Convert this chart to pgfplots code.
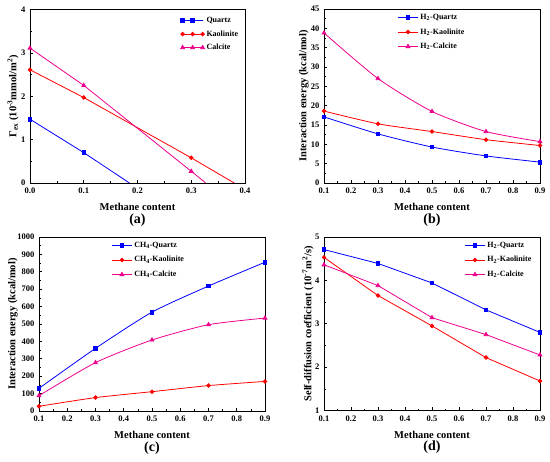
\documentclass[border=0pt]{standalone}
\usepackage{fontspec}
\setmainfont{Liberation Serif}
\usepackage{pgfplots}
\pgfplotsset{compat=1.18}
\pgfplotsset{
 myax/.style={
  scale only axis,
  axis line style={black, line width=0.7pt},
  tick align=inside,
  xtick pos=bottom, ytick pos=left,
  major tick length=3pt, minor tick length=1.6pt,
  every tick/.style={black, line width=0.6pt},
  minor x tick num=1, minor y tick num=1,
  /pgf/number format/assume math mode=true,
  /pgf/number format/1000 sep={},
  tick label style={font=\bfseries\fontsize{8.5}{9}\selectfont},
  yticklabel style={xshift=-1pt},
  label style={font=\bfseries\fontsize{10.5}{12}\selectfont},
  xlabel={Methane content},
  xlabel style={at={(axis description cs:0.5,0)}, anchor=center, yshift=-24pt},
  legend cell align=left,
  legend style={draw=none, fill=none, font=\bfseries\fontsize{8}{9}\selectfont, anchor=north west, row sep=3.5pt, inner sep=0pt},
  legend image code/.code={\draw[mark repeat=2,mark phase=2] plot coordinates {(0pt,0pt) (10pt,0pt) (20pt,0pt)};},
  every axis plot/.append style={line width=0.8pt, mark size=1.8pt},
  xticklabel style={yshift=-1.5pt, /pgf/number format/.cd, fixed, fixed zerofill, precision=1},
 },
 q/.style={color=blue, mark=square*},
 k/.style={color=red, mark=*},
 c/.style={color=magenta, mark=triangle*, mark size=2.2pt},
}
\begin{document}
\begin{tikzpicture}
\useasboundingbox (0,0) rectangle (550pt,462pt);
% (a)
\begin{axis}[myax, name=a, at={(30pt,279pt)}, anchor=south west, width=215pt, height=173.5pt,
  xmin=0, xmax=0.4, ymin=0, ymax=4, xtick={0,0.1,0.2,0.3,0.4}, ytick={0,1,2,3,4},
  ylabel={Γ\textsubscript{ex} (10\textsuperscript{-3}mmol/m\textsuperscript{2})},
  ylabel style={at={(axis description cs:-0.079,0.5)}, anchor=center},
  legend style={at={(0.70,0.968)}, row sep=2.5pt}]
\addplot[q, mark indices={1,2}] coordinates {(0,1.47) (0.1,0.70) (0.185,0)};
\addplot[k, mark indices={1,2,3}] coordinates {(0,2.61) (0.1,1.97) (0.3,0.58) (0.38,0)};
\addplot[c, mark indices={1,2,3}] coordinates {(0,3.11) (0.1,2.25) (0.3,0.27) (0.327,0)};
\legend{Quartz,Kaolinite,Calcite}
\end{axis}
% (b)
\begin{axis}[myax, name=b, at={(324pt,279pt)}, anchor=south west, width=216pt, height=174pt,
  xmin=0.1, xmax=0.9, ymin=0, ymax=45, xtick={0.1,0.2,...,0.91}, ytick={0,5,...,45},
  ylabel={Interaction energy (kcal/mol)},
  ylabel style={at={(axis description cs:-0.0926,0.5)}, anchor=center},
  legend style={at={(0.34,0.983)}}]
\addplot[q, smooth, tension=0.4] coordinates {(0.1,17.1) (0.3,12.7) (0.5,9.3) (0.7,7.0) (0.9,5.4)};
\addplot[k, smooth, tension=0.4] coordinates {(0.1,18.6) (0.3,15.3) (0.5,13.3) (0.7,11.2) (0.9,9.7)};
\addplot[c, smooth, tension=0.4] coordinates {(0.1,38.8) (0.3,27.0) (0.5,18.5) (0.7,13.3) (0.9,10.7)};
\legend{H\textsubscript{2}-Quartz,H\textsubscript{2}-Kaolinite,H\textsubscript{2}-Calcite}
\end{axis}
% (c)
\begin{axis}[myax, name=c, at={(39pt,51pt)}, anchor=south west, width=226pt, height=174pt,
  xmin=0.1, xmax=0.9, ymin=0, ymax=1000, xtick={0.1,0.2,...,0.91}, ytick={0,100,...,1000},
  ylabel={Interaction energy (kcal/mol)},
  ylabel style={at={(axis description cs:-0.115,0.5)}, anchor=center},
  legend style={at={(0.32,0.983)}}]
\addplot[q, smooth, tension=0.4] coordinates {(0.1,130) (0.3,360) (0.5,568) (0.7,718) (0.9,855)};
\addplot[k, smooth, tension=0.4] coordinates {(0.1,27) (0.3,77) (0.5,111) (0.7,146) (0.9,170)};
\addplot[c, smooth, tension=0.4] coordinates {(0.1,88) (0.3,278) (0.5,408) (0.7,496) (0.9,534)};
\legend{CH\textsubscript{4}-Quartz,CH\textsubscript{4}-Kaolinite,CH\textsubscript{4}-Calcite}
\end{axis}
% (d)
\begin{axis}[myax, name=d, at={(324pt,51.5pt)}, anchor=south west, width=216pt, height=173.5pt,
  xmin=0.1, xmax=0.9, ymin=1, ymax=5, xtick={0.1,0.2,...,0.91}, ytick={1,2,3,4,5},
  ylabel={Self-diffusion coefficient (10\textsuperscript{-7}m\textsuperscript{2}/s)},
  ylabel style={at={(axis description cs:-0.074,0.5)}, anchor=center},
  legend style={at={(0.65,0.983)}}]
\addplot[q] coordinates {(0.1,4.71) (0.3,4.39) (0.5,3.94) (0.7,3.32) (0.9,2.80)};
\addplot[k] coordinates {(0.1,4.53) (0.3,3.65) (0.5,2.95) (0.7,2.22) (0.9,1.68)};
\addplot[c] coordinates {(0.1,4.36) (0.3,3.88) (0.5,3.14) (0.7,2.75) (0.9,2.28)};
\legend{H\textsubscript{2}-Quartz,H\textsubscript{2}-Kaolinite,H\textsubscript{2}-Calcite}
\end{axis}
\node[font=\bfseries\fontsize{14}{16}\selectfont] at ([yshift=-37pt]a.south) {(a)};
\node[font=\bfseries\fontsize{14}{16}\selectfont] at ([yshift=-37pt]b.south) {(b)};
\node[font=\bfseries\fontsize{14}{16}\selectfont] at ([yshift=-37pt]c.south) {(c)};
\node[font=\bfseries\fontsize{14}{16}\selectfont] at ([yshift=-37pt]d.south) {(d)};
\end{tikzpicture}
\end{document}
